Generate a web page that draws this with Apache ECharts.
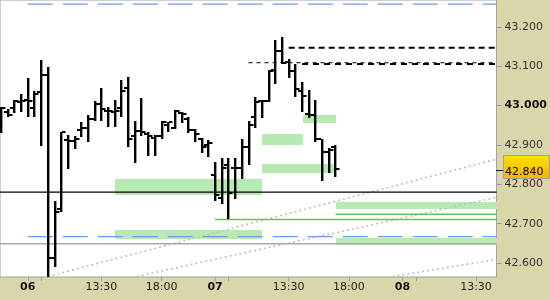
<!DOCTYPE html>
<html><head><meta charset="utf-8">
<script src="https://cdn.jsdelivr.net/npm/echarts@6/dist/echarts.min.js"></script>
<style>html,body{margin:0;padding:0;background:#fff}#c{width:550px;height:300px}</style>
</head><body><div id="c"></div>
<script>
// ---- data (x unit: trading hours since 06 08:00, 14h session per day) ----
const barHours = [-2,-1.5,-1,-0.5,0,0.5,1,1.5,2,2.5,3,3.5,4,4.5,5,5.5,6,6.5,7,7.5,8,8.5,9,9.5,10,10.5,11,11.5,12,12.5,13,13.5,14,14.5,15,15.5,16,16.5,17,17.5,18,18.5,19,19.5,20,20.5,21,21.5,22,22.5,23];
const opens  = [42.949,42.985,42.995,43.008,43.014,42.995,43.034,43.078,42.612,42.737,42.913,42.909,42.937,42.943,42.965,43.003,42.987,42.985,42.994,43.045,42.924,42.935,42.929,42.918,42.924,42.952,42.942,42.981,42.966,42.937,42.916,42.899,42.825,42.765,42.848,42.842,42.841,42.896,42.970,43.011,43.013,43.090,43.139,43.111,43.089,43.038,42.980,42.975,42.914,42.882,42.894];
const highs  = [42.997,42.992,43.014,43.030,43.071,43.036,43.116,43.099,42.757,42.934,42.926,42.924,42.958,42.976,43.013,43.045,42.996,43.014,43.065,43.073,42.960,43.020,42.932,42.926,42.960,42.958,42.989,42.983,42.970,42.940,42.918,42.913,42.858,42.868,42.868,42.868,42.916,42.960,43.021,43.014,43.090,43.166,43.175,43.118,43.106,43.059,43.040,43.014,42.916,42.893,42.901];
const lows   = [42.930,42.970,42.981,42.983,42.971,42.970,42.897,42.565,42.591,42.730,42.840,42.890,42.920,42.907,42.960,42.962,42.945,42.945,42.970,42.896,42.854,42.924,42.871,42.871,42.916,42.932,42.941,42.955,42.930,42.907,42.879,42.869,42.757,42.751,42.713,42.764,42.814,42.848,42.944,42.969,43.008,43.055,43.106,43.070,43.021,42.983,42.969,42.907,42.808,42.829,42.818];
const closes = [42.995,42.977,43.013,43.011,43.013,43.030,43.078,42.612,42.729,42.932,42.910,42.916,42.942,42.967,43.003,42.992,42.987,42.987,43.038,42.916,42.935,42.932,42.924,42.924,42.958,42.958,42.987,42.979,42.937,42.927,42.894,42.905,42.773,42.841,42.777,42.841,42.896,42.952,43.008,43.013,43.089,43.139,43.109,43.089,43.042,43.025,42.977,42.916,42.882,42.888,42.840];
const lastPrice = 42.840;

const yTicks = [42.6,42.7,42.8,42.9,43.0,43.1,43.2];
const xTickHours = [0,1,5.5,10,14,15,19.5,24,28,29,33.5];
const xLabelHours = [0,5.5,10,14,19.5,24,28,33.5];
const xLabelTexts = ['06','13:30','18:00','07','13:30','18:00','08','13:30'];
const dayLabels = ['06','07','08'];

const xMin = -2.074, xMax = 35.037;
const yMin = 42.5646, yMax = 43.2684;

// levels
const blackLevel = 42.780;
const grayLevel = 42.649;
const blueLevelStart = 0;
const blueLevels = [43.258, 42.667];
const greenLevelStarts = [14, 23];
const greenLevels = [42.711, 42.724];
const dashStarts = [19.5, 16.5, 20.5];
const dashLevels = [43.147, 43.109, 43.106];
// zones
const zoneStarts = [6.5, 6.5, 17.5, 20.6, 17.5, 23.04, 23.04];
const zoneEnds   = [17.5, 17.5, 20.6, 23.04, 23.04, xMax, xMax];
const zoneTops   = [42.813, 42.684, 42.927, 42.977, 42.851, 42.754, 42.663];
const zoneBottoms= [42.773, 42.661, 42.901, 42.957, 42.830, 42.737, 42.647];
// trend lines
const trendStartH = [1.5, 8.15, 27.26];
const trendStartP = [42.566, 42.566, 42.566];
const trendEndH   = [35.04, 35.04, 35.04];
const trendEndP   = [42.864, 42.767, 42.609];

// ---- chart ----
const FONT = '"DejaVu Sans", Verdana, sans-serif';
const chart = echarts.init(document.getElementById('c'), null, {renderer:'canvas'});

function hLine(x1, x2, p, color, width, type) {
  return {type:'line', data:[[x1,p],[x2,p]], showSymbol:false, symbol:'none', silent:true,
    lineStyle:{color:color, width:width, type:type}, z:2};
}
const series = [];
// zones
series.push({
  type:'custom', clip:true, silent:true, z:1,
  data: zoneStarts.map((s,i)=>[s, zoneEnds[i], zoneTops[i], zoneBottoms[i]]),
  encode:{x:[0,1], y:[2,3]},
  renderItem(params, api){
    const a = api.coord([api.value(0), api.value(2)]);
    const b = api.coord([api.value(1), api.value(3)]);
    const x = Math.round(a[0]), y = Math.round(a[1]);
    return {type:'rect', shape:{x:x, y:y, width:Math.round(b[0])-x, height:Math.round(b[1])-y},
      style:{fill:'#B6EAB2'}};
  }
});
// trend lines
trendStartH.forEach((s,i)=>{
  series.push({type:'line', data:[[s,trendStartP[i]],[trendEndH[i],trendEndP[i]]], showSymbol:false, symbol:'none', silent:true,
    lineStyle:{color:'#BDBDBD', width:1.6, type:[2,3]}, z:2});
});
series.push(hLine(xMin, xMax, grayLevel, '#A8A8A8', 1.5, 'solid'));
blueLevels.forEach(p=>series.push(hLine(blueLevelStart, xMax, p, '#6B9BEF', 1.2, [25,10])));
greenLevels.forEach((p,i)=>series.push(hLine(greenLevelStarts[i], xMax, p, '#5CC75C', 1.5, 'solid')));
series.push(hLine(xMin, xMax, blackLevel, '#000', 1.2, 'solid'));
series.push(hLine(dashStarts[0], xMax, dashLevels[0], '#000', 2, [6,4]));
series.push(hLine(dashStarts[1], xMax, dashLevels[1], '#000', 1, [4,4]));
series.push(hLine(dashStarts[2], xMax, dashLevels[2], '#000', 2, [6,5]));
// OHLC bars
series.push({
  type:'custom', clip:true, silent:true, z:5,
  data: barHours.map((h,i)=>[h, opens[i], highs[i], lows[i], closes[i]]),
  encode:{x:0, y:[1,2,3,4]},
  renderItem(params, api){
    const h = api.value(0);
    const pO = api.coord([h, api.value(1)]);
    const pH = api.coord([h, api.value(2)]);
    const pL = api.coord([h, api.value(3)]);
    const pC = api.coord([h, api.value(4)]);
    const x = Math.round(pH[0]);
    const top = Math.round(pH[1]), bot = Math.round(pL[1]);
    return {type:'group', children:[
      {type:'rect', shape:{x:x-1, y:top, width:2.4, height:Math.max(2, bot-top)}, style:{fill:'#000'}},
      {type:'rect', shape:{x:x-4, y:Math.round(pO[1])-1, width:3, height:2}, style:{fill:'#000'}},
      {type:'rect', shape:{x:x+1, y:Math.round(pC[1])-1, width:3.5, height:2}, style:{fill:'#000'}}
    ]};
  }
});
// last price tag
series.push({
  type:'custom', clip:false, silent:true, z:20,
  data:[[xMax, lastPrice]],
  renderItem(params, api){
    const p = api.coord([api.value(0), api.value(1)]);
    const x = Math.round(p[0]), y = Math.round(p[1]);
    return {type:'group', children:[
      {type:'line', shape:{x1:x-1, y1:y+1.5, x2:x+6, y2:y+1.5}, style:{stroke:'#000', lineWidth:1}},
      {type:'rect', shape:{x:x+6.5, y:y-13.5, width:46, height:23},
        style:{fill:new echarts.graphic.LinearGradient(0,0,0,1,[{offset:0,color:'#FFE000'},{offset:1,color:'#F2B600'}]), stroke:'#A0A0A0', lineWidth:1}},
      {type:'text', x:x+8, y:y+3, style:{text:api.value(1).toFixed(3), fill:'#000', font:'11px ' + FONT, verticalAlign:'middle', align:'left'}}
    ]};
  }
});

chart.setOption({
  animation:false,
  backgroundColor:'#D9D7AA',
  grid:{left:-1, top:-1, right:50, bottom:23, show:true, backgroundColor:'#fff', borderColor:'#A0A0A0', borderWidth:1, containLabel:false},
  xAxis:{type:'value', min:xMin, max:xMax, position:'bottom',
    axisLine:{show:false, onZero:false}, splitLine:{show:false},
    axisTick:{show:true, length:4, lineStyle:{color:'#9A9A9A'}, customValues:xTickHours},
    axisLabel:{margin:5, fontSize:11, fontFamily:FONT, color:'#222', customValues:xLabelHours,
      formatter:(v)=>{
        let idx = 0, best = 1e9;
        xLabelHours.forEach((h,i)=>{ if (Math.abs(h-v)<best){best=Math.abs(h-v); idx=i;} });
        const t = xLabelTexts[idx];
        return dayLabels.includes(t) ? '{b|'+t+'}' : t;
      },
      rich:{b:{fontWeight:'bold', fontSize:11, fontFamily:FONT, color:'#111'}}
    }
  },
  yAxis:{type:'value', min:yMin, max:yMax, position:'right', scale:true,
    axisLine:{show:false, onZero:false}, splitLine:{show:false},
    axisTick:{show:true, length:5, lineStyle:{color:'#9A9A9A'}, customValues:yTicks},
    axisLabel:{margin:8, fontSize:11, fontFamily:FONT, color:'#333', customValues:yTicks,
      formatter:(v)=> Math.abs(v-43)<1e-6 ? '{b|'+v.toFixed(3)+'}' : v.toFixed(3),
      rich:{b:{fontWeight:'bold', fontSize:11, fontFamily:FONT, color:'#111'}}
    }
  },
  series:series
});
</script>
</body></html>
